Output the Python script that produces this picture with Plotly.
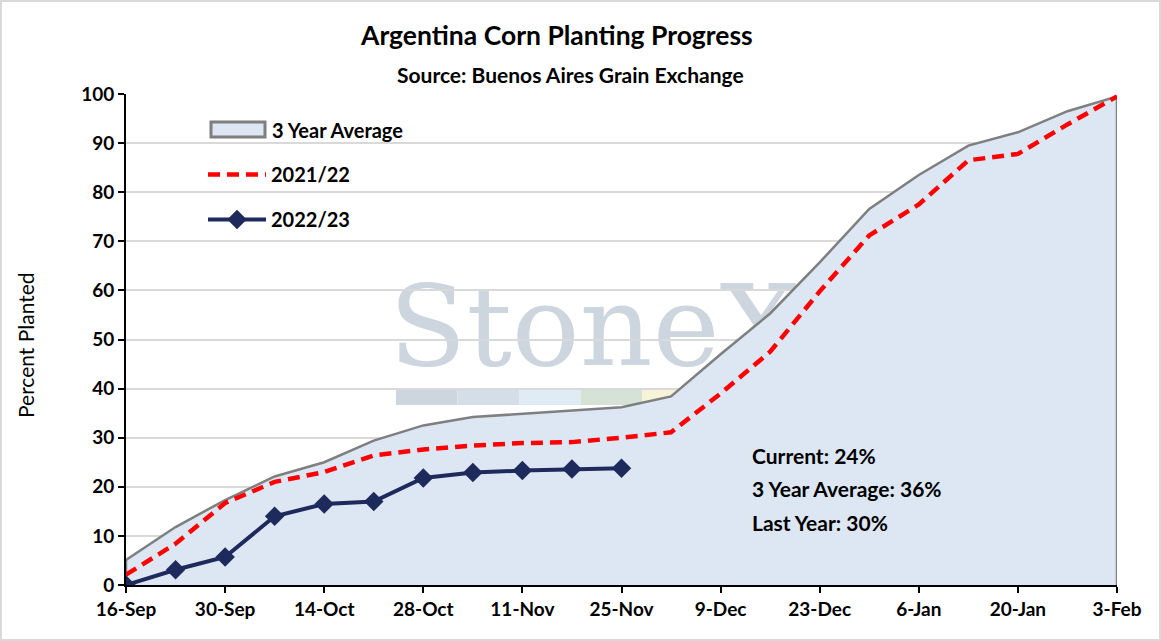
import pandas as pd
import plotly.graph_objects as go

# weekly report dates, 16-Sep-2022 .. 3-Feb-2023
dates = pd.date_range("2022-09-16", "2023-02-03", freq="7D")

avg_3yr = [5.1, 11.8, 17.3, 22.1, 25.0, 29.4, 32.5, 34.2, 34.9, 35.6, 36.2,
           38.4, 47.0, 55.3, 65.7, 76.6, 83.5, 89.5, 92.2, 96.5, 99.5]
y2021_22 = [2.1, 8.4, 16.7, 21.0, 23.0, 26.4, 27.6, 28.4, 28.9, 29.1, 30.0,
            31.1, 39.0, 47.5, 59.8, 71.2, 77.5, 86.5, 87.8, 93.8, 99.5]
y2022_23 = [0.0, 3.1, 5.7, 14.0, 16.5, 17.0, 21.8, 22.9, 23.3, 23.6, 23.8]

stats_lines = ["Current: 24%", "3 Year Average: 36%", "Last Year: 30%"]

FONT = "Lato"
AVG_FILL, AVG_LINE = "#DDE7F3", "#7F7F7F"
W, H = 1161, 641
L, R, T, B = 126, 44, 94, 56
PW, PH = W - L - R, H - T - B


def px_x(p):
    return (p - L) / PW


def px_y(p):
    return (H - B - p) / PH


def label(text, x, y, size, xanchor="center", bold=True, **kw):
    fig.add_annotation(text="<b>%s</b>" % text if bold else text,
                       xref="paper", yref="paper", x=px_x(x), y=px_y(y),
                       xanchor=xanchor, yanchor="middle", showarrow=False,
                       font=dict(family=FONT, size=size, color="black"), **kw)


fig = go.Figure()

# area with outline closed down to zero at both ends
fig.add_trace(go.Scatter(
    x=[dates[0]] + list(dates) + [dates[-1]],
    y=[0] + avg_3yr + [0],
    name="3 Year Average", mode="lines", fill="toself",
    fillcolor=AVG_FILL, line=dict(color=AVG_LINE, width=2.5),
    showlegend=False,
))
fig.add_trace(go.Scatter(
    x=dates, y=y2021_22, name="2021/22", mode="lines",
    line=dict(color="#FF0000", width=4.5, dash="12px,7px"),
    legendgroup="b",
))
fig.add_trace(go.Scatter(
    x=dates[:len(y2022_23)], y=y2022_23, name="2022/23", mode="lines+markers",
    line=dict(color="#1F2A5C", width=4),
    marker=dict(symbol="diamond", size=15, color="#1F2A5C"),
    legendgroup="c",
))

# legend entry for the area drawn by hand (boxed swatch like the original)
fig.add_shape(type="rect", xref="paper", yref="paper",
              x0=px_x(211), x1=px_x(265), y0=px_y(137), y1=px_y(122),
              line=dict(color=AVG_LINE, width=3), fillcolor=AVG_FILL)
label("3 Year Average", 270, 129.5, 20, xanchor="left")

# StoneX watermark behind the grid
fig.add_shape(type="rect", xref="paper", yref="paper", layer="below",
              x0=px_x(383), x1=px_x(820), y0=px_y(371), y1=px_y(264),
              line=dict(width=0), fillcolor="rgba(0,0,0,0)",
              label=dict(text="StoneX", textposition="middle left",
                         font=dict(family="DejaVu Serif", size=113, color="#CDD5DE")))
bar_colors = ["#CDD5DE", "#D3DEE9", "#DFEBF5", "#D5E3D7", "#F6F3D8"]
for i, c in enumerate(bar_colors):
    fig.add_shape(type="rect", xref="paper", yref="paper", layer="below",
                  x0=px_x(396 + 61.5 * i), x1=px_x(396 + 61.5 * (i + 1)),
                  y0=px_y(405), y1=px_y(390), line=dict(width=0), fillcolor=c)

# light outer frame
fig.add_shape(type="rect", xref="paper", yref="paper",
              x0=px_x(1), x1=px_x(W - 1), y0=px_y(H - 1), y1=px_y(1),
              line=dict(color="#D9D9D9", width=2))

label("Argentina Corn Planting Progress", 556, 35, 26.5)
label("Source: Buenos Aires Grain Exchange", 570, 75, 21)
label("Percent Planted", 25, 345, 21, bold=False, textangle=-90)
for i, s in enumerate(stats_lines):
    label(s, 750, 455 + 33.5 * i, 21, xanchor="left")

fig.update_layout(
    width=W, height=H,
    margin=dict(l=L, r=R, t=T, b=B),
    paper_bgcolor="white", plot_bgcolor="white",
    font=dict(family=FONT, color="black"),
    legend=dict(x=px_x(203), y=px_y(155), xanchor="left", yanchor="top",
                bgcolor="rgba(0,0,0,0)", itemwidth=58, tracegroupgap=16,
                font=dict(family=FONT, size=20, color="black", weight="bold")),
    showlegend=True,
)
fig.update_xaxes(
    range=[dates[0], dates[-1]], tick0=dates[0], dtick=14 * 86400000,
    tickformat="%-d-%b", ticks="outside", ticklen=6, tickwidth=1.5, tickcolor="black",
    showline=True, linecolor="black", linewidth=2, showgrid=False,
    tickfont=dict(family=FONT, size=19, color="black", weight="bold"),
)
fig.update_yaxes(
    range=[0, 100], dtick=10, ticks="outside", ticklen=6, tickwidth=1.5, tickcolor="black",
    showline=True, linecolor="black", linewidth=2,
    showgrid=True, gridcolor="#D9D9D9", gridwidth=1.5, zeroline=False,
    tickfont=dict(family=FONT, size=19, color="black", weight="bold"),
)

fig.write_html("out.html", config={"displayModeBar": False},
               post_script="document.body.style.margin='0';")
